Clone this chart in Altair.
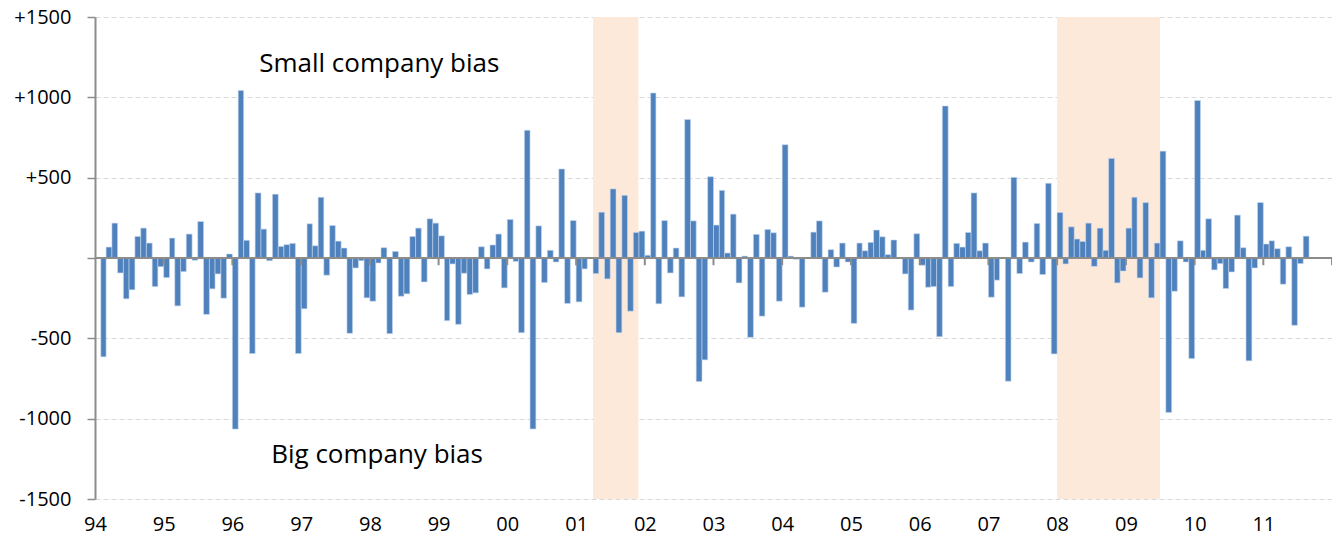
import altair as alt
import pandas as pd

# Monthly values, Feb 1994 .. Aug 2011
v1994 = [-615, 68, 217, -93, -254, -198, 134, 186, 93, -178, -54]
v1995 = [-122, 124, -298, -85, 149, -14, 227, -351, -192, -99, -250, 25]
v1996 = [-1065, 1043, 110, -595, 405, 180, -17, 397, 72, 83, 91, -595]
v1997 = [-316, 213, 76, 378, -107, 202, 105, 62, -469, -62, -17, -248]
v1998 = [-269, -31, 64, -471, 41, -238, -223, 134, 186, -149, 244, 217]
v1999 = [138, -390, -37, -413, -95, -227, -217, 70, -68, 81, 149, -186]
v2000 = [240, -21, -465, 795, -1064, 200, -153, 48, -25, 554, -283, 233]
v2001 = [-273, -68, 0, -97, 285, -130, 430, -465, 390, -331, 159, 167]
v2002 = [17, 1027, -285, 233, -93, 62, -242, 862, 231, -769, -634, 506]
v2003 = [205, 421, 31, 273, -155, 12, -494, 147, -362, 178, 157, -269]
v2004 = [705, 12, -8, -306, 0, 161, 231, -213, 52, -56, 93, -25]
v2005 = [-407, 93, 45, 97, 174, 132, 21, 112, 0, -99, -324, 151]
v2006 = [-45, -182, -178, -490, 946, -178, 91, 68, 159, 405, 45, 93]
v2007 = [-244, -138, 0, -767, 502, -97, 99, -25, 215, -103, 465, -597]
v2008 = [283, -37, 194, 118, 103, 217, -52, 186, 48, 620, -155, -81]
v2009 = [186, 378, -124, 345, -248, 93, 665, -961, -207, 107, -25, -626]
v2010 = [981, 48, 244, -74, -35, -190, -87, 267, 64, -640, -62, 345]
v2011 = [87, 107, 58, -163, 70, -419, -35, 136]

first_month = "1994-02-01"
year_labels = list(range(1994, 2012))
tick_years = list(range(1995, 2013))
shade_starts = ["2001-04-01", "2008-01-01"]
shade_ends = ["2001-11-28", "2009-07-01"]
y_ticks = [-1500, -1000, -500, 0, 500, 1000, 1500]

values = (v1994 + v1995 + v1996 + v1997 + v1998 + v1999 + v2000 + v2001 + v2002
          + v2003 + v2004 + v2005 + v2006 + v2007 + v2008 + v2009 + v2010 + v2011)
dates = pd.date_range(first_month, periods=len(values), freq="MS")
bars_df = pd.DataFrame({
    "date": dates,
    "end": dates + pd.offsets.MonthBegin(1),
    "value": values,
})
shade_df = pd.DataFrame({"start": pd.to_datetime(shade_starts), "end": pd.to_datetime(shade_ends)})
ticks_df = pd.DataFrame({"date": pd.to_datetime([f"{y}-01-01" for y in tick_years])})
text_df = pd.DataFrame({
    "date": pd.to_datetime(["1998-02-20", "1998-02-08"]),
    "value": [1155, -1276],
    "label": ["Small company bias", "Big company bias"],
})

W, H = 1237, 482
FONT = "Open Sans"
GRAY = "#8C8C8C"

xscale = alt.Scale(domain=[alt.DateTime(year=1994, month=1, date=1),
                           alt.DateTime(year=2012, month=1, date=1)], nice=False)
yscale = alt.Scale(domain=[-1500, 1500], nice=False)

shade = alt.Chart(shade_df).mark_rect(color="#FDE9D9").encode(
    x=alt.X("start:T", scale=xscale),
    x2="end:T",
    y=alt.datum(1500),
    y2=alt.datum(-1500),
)

bars = alt.Chart(bars_df).mark_rect(color="#4F81BD", stroke="#C5D7EE", strokeWidth=0.6).encode(
    x=alt.X("date:T", scale=xscale, title=None,
            axis=alt.Axis(values=[alt.DateTime(year=y, month=1, date=1) for y in year_labels],
                          format="%y", domain=False, ticks=False, tickSize=0, grid=False,
                          labelPadding=15, labelFontSize=20, labelFont=FONT,
                          labelColor="#000000", labelOverlap=False, labelFlush=False)),
    x2="end:T",
    y=alt.Y("value:Q", scale=yscale, title=None,
            axis=alt.Axis(values=y_ticks, domainColor=GRAY, domainWidth=2,
                          tickColor=GRAY, tickSize=8, tickWidth=1.5,
                          labelPadding=16, labelFontSize=20, labelFont=FONT,
                          labelColor="#000000",
                          labelExpr="datum.value > 0 ? '+' + datum.value : (datum.value == 0 ? '' : '' + datum.value)",
                          grid=True, gridColor="#D9D9D9", gridDash=[5, 3], gridWidth=1.2)),
    y2=alt.datum(0),
)

zero = alt.Chart(bars_df).mark_rule(color=GRAY, strokeWidth=2).encode(y=alt.datum(0))

yticks = alt.Chart(ticks_df).mark_rule(color=GRAY, strokeWidth=2).encode(
    x=alt.X("date:T", scale=xscale),
    y=alt.datum(0),
    y2=alt.datum(-45),
)

texts = alt.Chart(text_df).mark_text(font=FONT, fontSize=26, color="#000000",
                                     align="center", baseline="alphabetic").encode(
    x=alt.X("date:T", scale=xscale),
    y=alt.Y("value:Q", scale=yscale),
    text="label:N",
)

chart = alt.layer(shade, bars, zero, yticks, texts).properties(
    width=W, height=H,
    autosize=alt.AutoSizeParams(type="none"),
    padding={"left": 87, "top": 9, "right": 0, "bottom": 45},
).configure_view(stroke=None).configure_axis(labelFont=FONT)

chart.save("out.html", embed_options={"renderer": "svg", "actions": False})
